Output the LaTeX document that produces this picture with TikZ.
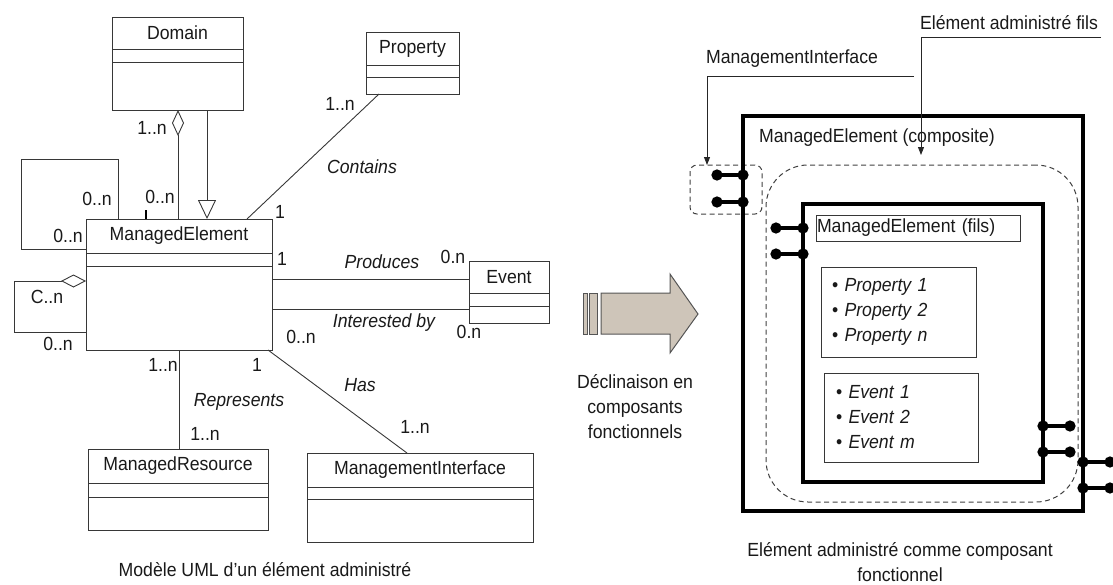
\documentclass[tikz,border=0pt]{standalone}
\usepackage{fontspec}
\setmainfont{Liberation Sans}[FakeStretch=0.93]
\usepackage{xcolor}
\usetikzlibrary{arrows.meta,positioning}
\definecolor{lineGrey}{RGB}{55,55,55}
\definecolor{arrowBeige}{RGB}{206,197,185}
\definecolor{arrowEdge}{RGB}{85,85,85}
\newcommand{\labelFont}{\fontsize{19}{25}\selectfont}
% class box: name, top-left corner, width, heights of the three parts, title
\newcommand{\umlClass}[7]{%
    \node[classHead, minimum width=#3, minimum height=#4, anchor=north west] (#1) at #2 {#7};
    \node[classPart, minimum width=#3, minimum height=#5, below=0pt of #1] (#1Attr) {};
    \node[classPart, minimum width=#3, minimum height=#6, below=0pt of #1Attr] (#1Ops) {};
}

\begin{document}
\begin{tikzpicture}[
    x=1pt, y=-1pt,
    font=\labelFont,
    text=black!90,
    classHead/.style={draw=lineGrey, line width=0.9pt, inner sep=0pt, outer sep=0pt},
    classPart/.style={classHead},
    assoc/.style={draw=lineGrey, line width=0.9pt},
    aggr/.style={assoc, {Diamond[open, length=26pt, width=12pt]}-},
    aggrSide/.style={assoc, {Diamond[open, length=25pt, width=13pt]}-},
    inherit/.style={assoc, -{Triangle[open, length=19pt, width=18pt]}},
    mult/.style={inner sep=0pt},
    assocName/.style={font=\labelFont\itshape, inner sep=0pt},
    thickBox/.style={draw, line width=4pt, inner sep=0pt, outer sep=0pt, anchor=north west},
    dashedZone/.style={draw=black!75, line width=1pt, dash pattern=on 5pt off 3.5pt,
        inner sep=0pt, outer sep=0pt, anchor=north west},
    listBox/.style={draw=lineGrey, line width=0.9pt, anchor=north west, align=left, outer sep=0pt},
    port/.style={line width=3.5pt, {Circle[length=11pt, width=11pt]}-{Circle[length=11pt, width=11pt]}},
    leader/.style={draw=black!85, line width=0.9pt, -{Triangle[length=8pt, width=6pt]}},
    bigArrow/.style={draw=arrowEdge, fill=arrowBeige, line width=1pt}
]
    \useasboundingbox (0,0) rectangle (1113,584);

    % UML model
    \umlClass{domain}{(112,17)}{131pt}{32pt}{13pt}{48pt}{Domain}
    \umlClass{property}{(366,32)}{93pt}{33pt}{12pt}{17pt}{Property}
    \umlClass{me}{(86,219)}{186pt}{34pt}{13pt}{84pt}{ManagedElement}
    \umlClass{event}{(469,261)}{80pt}{32pt}{13pt}{17pt}{Event}
    \umlClass{res}{(88,449)}{180pt}{34pt}{14pt}{33pt}{ManagedResource}
    \umlClass{mi}{(307,453)}{226pt}{34pt}{12pt}{43pt}{ManagementInterface}

    \coordinate (domAgg) at ([xshift=66pt]domainOps.south west);
    \coordinate (domGen) at ([xshift=95pt]domainOps.south west);
    \coordinate (propEnd) at ([xshift=13pt]propertyOps.south west);
    \coordinate (meProp) at ([xshift=161pt]me.north west);
    \coordinate (meLoopTop) at ([xshift=32pt]me.north west);
    \coordinate (meLoopLeft) at ([yshift=-30pt]me.north west);
    \coordinate (meAggStart) at ([yshift=-15pt]meOps.north west);
    \coordinate (meAggEnd) at ([yshift=-66pt]meOps.north west);
    \coordinate (meProd) at ([yshift=-13pt]meOps.north east);
    \coordinate (meInt) at ([yshift=-43pt]meOps.north east);
    \coordinate (meRep) at ([xshift=93pt]meOps.south west);
    \coordinate (meHas) at ([xshift=-4pt]meOps.south east);
    \coordinate (miHas) at ([xshift=100pt]mi.north west);

    \draw[aggr] (domAgg) -- (domAgg |- me.north);
    \draw[inherit] (domGen) -- (domGen |- me.north);
    \draw[assoc] (propEnd) -- (meProp);
    \draw[assoc] (meLoopTop) -- ++(0,-60) -- ++(-97,0) -- ++(0,90) -- (meLoopLeft);
    \draw[aggrSide] (meAggStart) -- ++(-72,0) -- ++(0,51) -- (meAggEnd);
    \draw[assoc] (meProd) -- (meProd -| event.west);
    \draw[assoc] (meInt) -- (meInt -| eventOps.west);
    \draw[assoc] (meRep) -- (meRep |- res.north);
    \draw[assoc] (meHas) -- (miHas);
    \draw[line width=2.5pt] ([xshift=60pt]me.north west) -- ++(0,-9);

    \node[mult] (domMult) at (152,128) {1..n};
    \node[mult] (meDomMult) at (160,197) {0..n};
    \node[mult] (propMult) at (340,104) {1..n};
    \node[assocName] (containsLbl) at (362,167) {Contains};
    \node[mult] (mePropMult) at (280,212) {1};
    \node[mult] (loopTopMult) at (97,199) {0..n};
    \node[mult] (loopLeftMult) at (68,236) {0..n};
    \node[mult] (aggTopMult) at (47,297) {C..n};
    \node[mult] (aggBotMult) at (58,344) {0..n};
    \node[mult] (prodMult) at (282,259) {1};
    \node[assocName] (producesLbl) at (382,262) {Produces};
    \node[mult] (prodEvMult) at (453,257) {0.n};
    \node[mult] (intMult) at (301,337) {0..n};
    \node[assocName] (interestedLbl) at (384,323) {Interested by};
    \node[mult] (intEvMult) at (469,332) {0.n};
    \node[mult] (repMult) at (163,365) {1..n};
    \node[assocName] (representsLbl) at (239,402) {Represents};
    \node[mult] (repResMult) at (205,434) {1..n};
    \node[mult] (hasMult) at (257,365) {1};
    \node[assocName] (hasLbl) at (360,385) {Has};
    \node[mult] (hasMiMult) at (415,427) {1..n};
    \node (umlCaption) at (265,570) {Modèle UML d'un élément administré};

    % transition arrow
    \draw[bigArrow] (601,293) -- (670,293) -- (670,274) -- (698,314) -- (670,353)
        -- (670,334) -- (601,334) -- cycle;
    \draw[bigArrow] (583,293) rectangle (587,334);
    \draw[bigArrow] (589,293) rectangle (597,334);
    \node[align=center] (declText) at (635,407) {Déclinaison en\\composants\\fonctionnels};

    % component view
    \node[dashedZone, minimum width=312pt, minimum height=337pt, rounded corners=42pt] (childZone) at (766,165) {};
    \node[dashedZone, minimum width=72pt, minimum height=49pt, rounded corners=7pt] (ifaceZone) at (690,165) {};
    \node[thickBox, minimum width=340pt, minimum height=395pt] (outerBox) at (743,116) {};
    \node[thickBox, minimum width=240pt, minimum height=278pt] (innerBox) at (803,204) {};

    \node (outerTitle) at (877,138) {ManagedElement (composite)};
    \node[listBox, minimum width=204pt, minimum height=26pt, inner sep=1pt, text width=202pt] (filsTitle) at (816,215) {ManagedElement (fils)};
    \node[listBox, minimum width=155pt, minimum height=90pt, inner xsep=11pt, text width=133pt] (propList) at (821,267)
        {• \textit{Property 1}\\• \textit{Property 2}\\• \textit{Property n}};
    \node[listBox, minimum width=154pt, minimum height=89pt, inner xsep=12pt, text width=130pt] (eventList) at (824,373)
        {• \textit{Event 1}\\• \textit{Event 2}\\• \textit{Event m}};

    \draw[port] ([xshift=-31.5pt,yshift=-59pt]outerBox.north west) -- ([xshift=5.5pt,yshift=-59pt]outerBox.north west);
    \draw[port] ([xshift=-31.5pt,yshift=-86pt]outerBox.north west) -- ([xshift=5.5pt,yshift=-86pt]outerBox.north west);
    \draw[port] ([xshift=-32.5pt,yshift=-24pt]innerBox.north west) -- ([xshift=5.5pt,yshift=-24pt]innerBox.north west);
    \draw[port] ([xshift=-32.5pt,yshift=-50pt]innerBox.north west) -- ([xshift=5.5pt,yshift=-50pt]innerBox.north west);
    \draw[port] ([xshift=-5.5pt,yshift=56pt]innerBox.south east) -- ([xshift=32.5pt,yshift=56pt]innerBox.south east);
    \draw[port] ([xshift=-5.5pt,yshift=30pt]innerBox.south east) -- ([xshift=32.5pt,yshift=30pt]innerBox.south east);
    \draw[port] ([xshift=-5.5pt,yshift=49pt]outerBox.south east) -- ([xshift=32.5pt,yshift=49pt]outerBox.south east);
    \draw[port] ([xshift=-5.5pt,yshift=23pt]outerBox.south east) -- ([xshift=32.5pt,yshift=23pt]outerBox.south east);

    \node (miCallout) at (792,59) {ManagementInterface};
    \node (filsCallout) at (1009,23) {Elément administré fils};
    \coordinate (miLead) at (914,76);
    \coordinate (filsLead) at (1101,37);
    \draw[leader] (miLead) -| ([xshift=17pt]ifaceZone.north west);
    \draw[leader] (filsLead) -| ([xshift=155pt,yshift=10pt]childZone.north west);

    \node[align=center] (compCaption) at (900,562) {Elément administré comme composant\\fonctionnel};
\end{tikzpicture}
\end{document}
